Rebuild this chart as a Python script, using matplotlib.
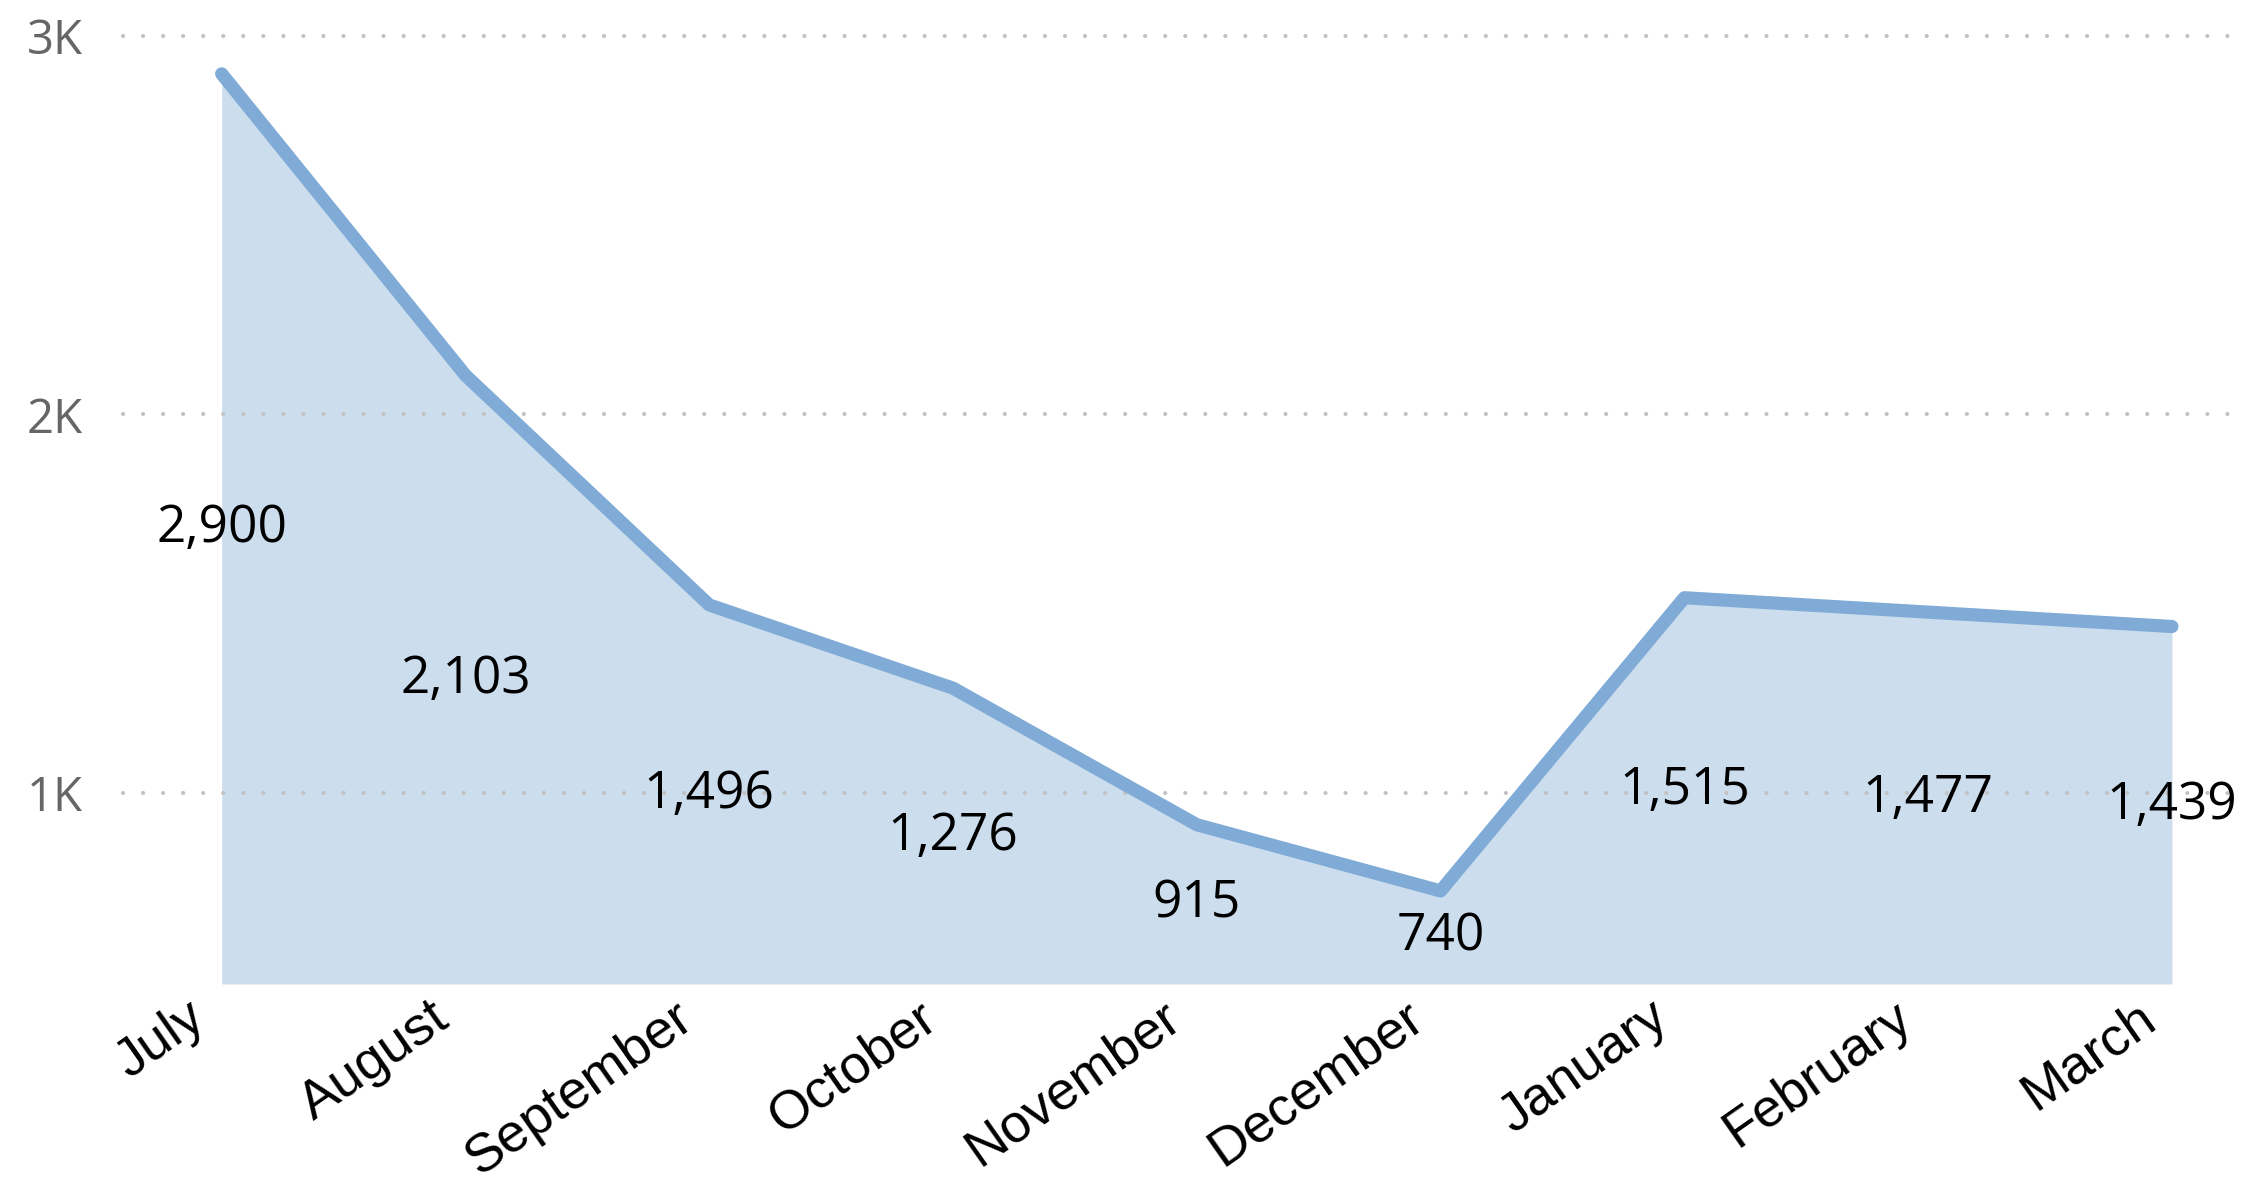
import matplotlib.pyplot as plt
from matplotlib.transforms import ScaledTranslation

months = ["July", "August", "September", "October", "November",
          "December", "January", "February", "March"]
values = [2900, 2103, 1496, 1276, 915, 740, 1515, 1477, 1439]
y_ticks = [1000, 2000, 3000]
y_tick_labels = ["1K", "2K", "3K"]

Y_MIN = 494
LINE_COLOR = "#7FABD6"
FILL_COLOR = "#CCDDEE"

fig = plt.figure(figsize=(22.48, 11.77), dpi=100)
ax = fig.add_axes([0.0547, 0.164, 0.944, 0.8054])

x = range(len(months))
ax.fill_between(x, values, Y_MIN, color=FILL_COLOR, linewidth=0, zorder=1)
for t in y_ticks:
    ax.axhline(t, color="#C2C2C2", linewidth=3.0, linestyle=(0, (0.01, 4.8)),
               dash_capstyle="round", zorder=1.5, clip_on=False)
ax.plot(x, values, color=LINE_COLOR, linewidth=9.5, solid_capstyle="round",
        solid_joinstyle="round", zorder=2)

# data labels sit halfway down the filled area
for i, v in enumerate(values):
    ax.text(i, (v + Y_MIN) / 2, f"{v:,}", ha="center", va="center",
            fontsize=37, family="Open Sans", color="black", zorder=3)

ax.set_xlim(-0.405, 8.30)
ax.set_ylim(Y_MIN, 3000)
ax.set_yticks(y_ticks)
ax.set_yticklabels(y_tick_labels, family="Open Sans", fontsize=34, color="#666666")
ax.set_xticks(list(x))
ax.set_xticklabels([])

# rotated month labels, anchored a little left of and below each tick
lbl_tr = ax.get_xaxis_transform() + ScaledTranslation(-0.36, -0.08, fig.dpi_scale_trans)
for i, m in enumerate(months):
    ax.text(i, 0, m, transform=lbl_tr, family="Liberation Sans", fontsize=39,
            rotation=35, ha="right", va="top", rotation_mode="anchor")

ax.tick_params(axis="both", length=0)
ax.tick_params(axis="y", pad=29)
for s in ax.spines.values():
    s.set_visible(False)

fig.savefig("out.png", dpi=100, facecolor="white")
